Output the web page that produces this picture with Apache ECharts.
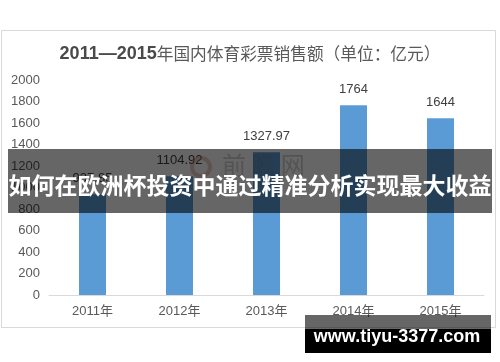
<!DOCTYPE html>
<html>
<head>
<meta charset="utf-8">
<style>
html,body{margin:0;padding:0;background:#fff;}
#c{width:500px;height:362px;}
</style>
<script src="https://cdn.jsdelivr.net/npm/echarts@6/dist/echarts.min.js"></script>
</head>
<body>
<div id="c"></div>
<script>
var categories = ['2011年', '2012年', '2013年', '2014年', '2015年'];
var sales = [937.85, 1104.92, 1327.97, 1764, 1644];
var labels = ['937.85', '1104.92', '1327.97', '1764', '1644'];
var yTicks = [0, 200, 400, 600, 800, 1000, 1200, 1400, 1600, 1800, 2000];
var titleBold = '2011—2015';
var titleRest = '年国内体育彩票销售额（单位：亿元）';
var bannerText = '如何在欧洲杯投资中通过精准分析实现最大收益';
var siteText = 'www.tiyu-3377.com';

var chart = echarts.init(document.getElementById('c'), null, {renderer: 'canvas'});
var font = '"Liberation Sans", Arial, "Noto Sans CJK SC", sans-serif';
chart.setOption({
  animation: false,
  backgroundColor: '#ffffff',
  title: {
    text: '{b|' + titleBold + '}{r|' + titleRest + '}',
    left: 'center',
    top: 40,
    textStyle: {
      rich: {
        b: {fontFamily: font, fontWeight: 'bold', fontSize: 18, color: '#4a4a4a'},
        r: {fontFamily: '"Noto Sans CJK SC", sans-serif', fontWeight: 'normal', fontSize: 16.7, color: '#595959'}
      }
    }
  },
  grid: {left: 49, right: 16, top: 80, bottom: 67, containLabel: false},
  xAxis: {
    type: 'category',
    data: categories,
    axisLine: {lineStyle: {color: '#d9d9d9', width: 1}},
    axisTick: {show: false},
    axisLabel: {color: '#595959', fontSize: 13, fontFamily: font, margin: 10}
  },
  yAxis: {
    type: 'value',
    min: yTicks[0],
    max: yTicks[yTicks.length - 1],
    interval: 200,
    axisLine: {show: false},
    axisTick: {show: false},
    splitLine: {show: false},
    axisLabel: {color: '#595959', fontSize: 13, fontFamily: font, margin: 9, formatter: function (v) { return String(v); }}
  },
  series: [{
    type: 'bar',
    data: sales,
    barWidth: 27,
    itemStyle: {color: '#5b9bd5'},
    label: {
      show: true,
      position: 'top',
      distance: 9,
      color: '#404040',
      fontSize: 13,
      fontFamily: font,
      formatter: function (p) { return labels[p.dataIndex]; }
    }
  }],
  graphic: [
    {type: 'rect', shape: {x: 1.5, y: 30.5, width: 494, height: 297}, style: {fill: 'none', stroke: '#d9d9d9', lineWidth: 1}, z: 1, silent: true},
    {type: 'circle', shape: {cx: 201, cy: 167, r: 9}, style: {fill: 'none', stroke: 'rgba(200,110,90,0.35)', lineWidth: 4}, z: 50, silent: true},
    {type: 'text', left: 222, top: 153, style: {text: '前 瞻 网', fill: 'rgba(120,120,120,0.35)', font: '24px "Noto Sans CJK SC", sans-serif'}, z: 50, silent: true},
    {type: 'rect', shape: {x: 8, y: 149, width: 484, height: 64}, style: {fill: 'rgba(0,0,0,0.6)'}, z: 100, silent: true},
    {type: 'text', x: 250, y: 185, style: {text: bannerText, fill: '#ffffff', font: 'bold 23px "Noto Sans CJK SC", sans-serif', textAlign: 'center', textVerticalAlign: 'middle'}, z: 101, silent: true},
    {type: 'rect', shape: {x: 305, y: 315, width: 186, height: 14}, style: {fill: 'rgba(0,0,0,0.6)'}, z: 100, silent: true},
    {type: 'rect', shape: {x: 305, y: 329, width: 186, height: 24}, style: {fill: '#000000'}, z: 100, silent: true},
    {type: 'text', x: 397, y: 337, style: {text: siteText, fill: '#ffffff', font: 'bold 18px "Liberation Sans", Arial, sans-serif', textAlign: 'center', textVerticalAlign: 'middle'}, z: 101, silent: true}
  ]
});
</script>
</body>
</html>
